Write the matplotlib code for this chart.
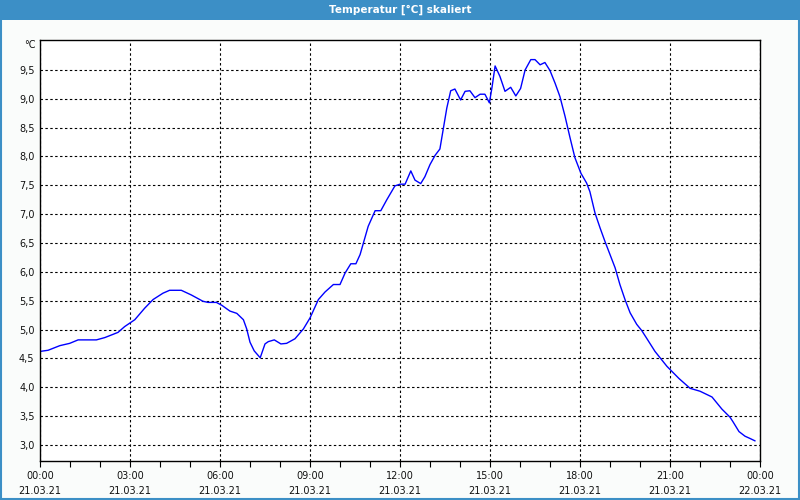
import matplotlib.pyplot as plt
from matplotlib.patches import Rectangle

# time of day in hours (21.03.21) and temperature in degC
hours = [0.0, 0.27, 0.66, 0.99, 1.27, 1.88, 2.16, 2.6, 2.82, 3.16, 3.49, 3.77, 4.1, 4.32,
         4.71, 5.04, 5.43, 5.6, 5.88, 6.06, 6.33, 6.56, 6.78, 6.89, 7.0, 7.14, 7.34, 7.5,
         7.61, 7.81, 8.03, 8.22, 8.5, 8.78, 9.0, 9.28, 9.5, 9.78, 10.0, 10.17, 10.36, 10.53,
         10.67, 10.78, 10.94, 11.06, 11.17, 11.36, 11.56, 11.83, 12.0, 12.17, 12.36, 12.5,
         12.69, 12.83, 13.0, 13.17, 13.33, 13.44, 13.56, 13.69, 13.83, 14.02, 14.17, 14.33,
         14.5, 14.67, 14.83, 14.98, 15.07, 15.17, 15.33, 15.5, 15.69, 15.86, 16.02, 16.17,
         16.36, 16.5, 16.67, 16.83, 17.0, 17.17, 17.33, 17.5, 17.67, 17.83, 18.03, 18.22,
         18.33, 18.5, 18.67, 18.83, 19.0, 19.17, 19.33, 19.5, 19.67, 19.89, 20.06, 20.22,
         20.5, 20.9, 21.3, 21.67, 22.0, 22.4, 22.73, 23.0, 23.1, 23.3, 23.5, 23.67, 23.83]
temps = [4.62, 4.64, 4.72, 4.76, 4.82, 4.82, 4.86, 4.95, 5.05, 5.17, 5.37, 5.52, 5.63, 5.68,
         5.68, 5.60, 5.49, 5.47, 5.47, 5.42, 5.32, 5.28, 5.17, 5.01, 4.78, 4.63, 4.51, 4.75,
         4.79, 4.82, 4.75, 4.76, 4.84, 5.01, 5.2, 5.52, 5.65, 5.78, 5.78, 5.98, 6.14, 6.14,
         6.3, 6.5, 6.79, 6.93, 7.06, 7.06, 7.25, 7.49, 7.52, 7.52, 7.75, 7.59,
         7.53, 7.65, 7.86, 8.02, 8.13, 8.47, 8.84, 9.14, 9.17, 8.98, 9.13, 9.14,
         9.02, 9.08, 9.08, 8.93, 9.21, 9.57, 9.39, 9.13, 9.2, 9.05, 9.18, 9.5,
         9.68, 9.68, 9.59, 9.63, 9.49, 9.27, 9.04, 8.7, 8.32, 7.98, 7.71, 7.54,
         7.39, 7.02, 6.76, 6.53, 6.3, 6.07, 5.78, 5.52, 5.29, 5.09, 4.98, 4.85,
         4.62, 4.36, 4.15, 3.98, 3.93, 3.83, 3.62, 3.48, 3.4, 3.23, 3.15, 3.11, 3.07]

tick_hours = [0, 3, 6, 9, 12, 15, 18, 21, 24]
tick_labels = ['00:00\n21.03.21', '03:00\n21.03.21', '06:00\n21.03.21', '09:00\n21.03.21',
               '12:00\n21.03.21', '15:00\n21.03.21', '18:00\n21.03.21', '21:00\n21.03.21',
               '00:00\n22.03.21']
y_ticks = [3.0, 3.5, 4.0, 4.5, 5.0, 5.5, 6.0, 6.5, 7.0, 7.5, 8.0, 8.5, 9.0, 9.5]

plt.rcParams['font.family'] = ['DejaVu Sans']

fig = plt.figure(figsize=(8, 5), dpi=100, facecolor='#fafcfb')

#Title bar and frame
fig.patches.append(Rectangle((0, 0.96), 1, 0.04, transform=fig.transFigure,
                             facecolor='#3c8fc6', edgecolor='none', zorder=0))
fig.patches.append(Rectangle((0.001, 0.002), 0.998, 0.997, transform=fig.transFigure,
                             facecolor='none', edgecolor='#3c8fc6', linewidth=1.5, zorder=0))
fig.text(0.5, 0.981, 'Temperatur [°C] skaliert', color='white', fontsize=7.5,
         fontweight='bold', ha='center', va='center')

ax = fig.add_axes([0.05, 0.078, 0.90, 0.842])
ax.set_facecolor('white')
ax.plot(hours, temps, color='#0000ff', linewidth=1)

ax.set_xlim(0, 24)
ax.set_ylim(2.72, 10.02)
ax.set_xticks(tick_hours)
ax.set_xticklabels(tick_labels, fontsize=7, color='#111111', linespacing=1.65)
ax.set_xticks(range(25), minor=True)
ax.set_yticks(y_ticks)
ax.set_yticklabels([('%.1f' % v).replace('.', ',') for v in y_ticks], fontsize=7, color='#111111')
ax.tick_params(axis='x', which='both', length=4, width=0.8, direction='out', pad=3)
ax.tick_params(axis='y', length=0, pad=4)

ax.grid(True, which='major', color='black', linestyle=(0, (2.2, 2.2)), linewidth=0.8)
for s in ax.spines.values():
    s.set_linewidth(1)
    s.set_color('black')

fig.text(0.045, 0.91, '°C', fontsize=7, ha='right', va='center', color='#111111')

plt.savefig('out.png', dpi=100, facecolor=fig.get_facecolor())
